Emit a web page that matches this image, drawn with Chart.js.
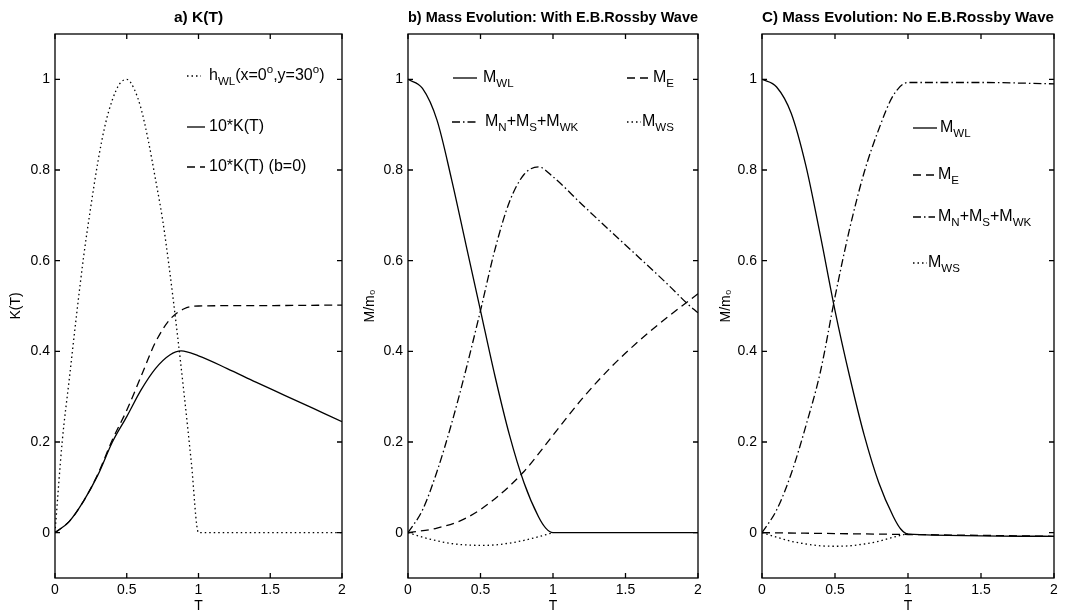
<!DOCTYPE html>
<html>
<head>
<meta charset="utf-8">
<script src="https://cdn.jsdelivr.net/npm/chart.js@4.4.0/dist/chart.umd.min.js"></script>
<style>
  body { margin: 0; background: #fff; width: 1065px; height: 615px; overflow: hidden; position: relative; }
  canvas { position: absolute; top: 0; }
</style>
</head>
<body>
<canvas id="chartA" width="354" height="615" style="left:0px"></canvas>
<canvas id="chartB" width="356" height="615" style="left:354px"></canvas>
<canvas id="chartC" width="355" height="615" style="left:710px"></canvas>
<script>
const FONT = '"Liberation Sans", Arial, Helvetica, sans-serif';

// shared axes
const xTicks = [0, 0.5, 1, 1.5, 2];
const yTicks = [0, 0.2, 0.4, 0.6, 0.8, 1];

// a) K(T)
const tH = [0, 0.05, 0.1, 0.15, 0.2, 0.25, 0.3, 0.35, 0.4, 0.45, 0.5, 0.55, 0.6, 0.65, 0.7, 0.75, 0.8, 0.85, 0.9, 0.95, 1.0, 2.0];
const hWL = [0, 0.2, 0.34, 0.48, 0.61, 0.72, 0.82, 0.9, 0.955, 0.99, 1.0, 0.98, 0.935, 0.865, 0.78, 0.69, 0.575, 0.445, 0.305, 0.155, 0, 0];
const tK = [0, 0.1, 0.2, 0.3, 0.4, 0.5, 0.6, 0.7, 0.8, 0.88, 1.0, 1.2, 1.4, 1.6, 1.8, 2.0];
const kT = [0, 0.025, 0.07, 0.128, 0.2, 0.256, 0.315, 0.362, 0.392, 0.401, 0.39, 0.362, 0.332, 0.303, 0.274, 0.245];
const tKb = [0, 0.1, 0.2, 0.3, 0.4, 0.5, 0.6, 0.7, 0.8, 0.9, 1.0, 1.5, 2.0];
const kTb0 = [0, 0.025, 0.07, 0.13, 0.205, 0.27, 0.345, 0.42, 0.47, 0.494, 0.5, 0.501, 0.502];

// b) with E.B. Rossby wave
const tWLb = [0, 0.1, 0.2, 0.3, 0.4, 0.5, 0.6, 0.7, 0.8, 0.9, 0.95, 1.0, 2.0];
const mWLb = [1, 0.98, 0.91, 0.78, 0.635, 0.49, 0.345, 0.215, 0.11, 0.035, 0.01, 0, 0];
const tEb = [0, 0.2, 0.4, 0.6, 0.8, 1.0, 1.2, 1.4, 1.6, 1.8, 2.0];
const mEb = [0, 0.01, 0.032, 0.075, 0.135, 0.215, 0.295, 0.365, 0.425, 0.478, 0.527];
const tNSb = [0, 0.1, 0.2, 0.3, 0.4, 0.5, 0.6, 0.7, 0.8, 0.9, 1.0, 1.2, 1.4, 1.6, 1.8, 1.92, 2.0];
const mNSb = [0, 0.05, 0.135, 0.24, 0.36, 0.49, 0.625, 0.73, 0.79, 0.807, 0.785, 0.724, 0.664, 0.605, 0.545, 0.507, 0.485];
const tWSb = [0, 0.1, 0.2, 0.3, 0.4, 0.5, 0.6, 0.7, 0.8, 0.9, 1.0];
const mWSb = [0, -0.01, -0.018, -0.024, -0.027, -0.028, -0.027, -0.023, -0.017, -0.009, 0];

// c) no E.B. Rossby wave
const tWLc = [0, 0.1, 0.2, 0.3, 0.4, 0.5, 0.6, 0.7, 0.8, 0.9, 0.95, 1.0, 2.0];
const mWLc = [1, 0.983, 0.925, 0.81, 0.655, 0.49, 0.345, 0.215, 0.11, 0.035, 0.008, -0.003, -0.008];
const tEc = [0, 0.5, 1.0, 2.0];
const mEc = [0, -0.002, -0.004, -0.008];
const tNSc = [0, 0.1, 0.2, 0.3, 0.4, 0.5, 0.6, 0.7, 0.8, 0.9, 1.0, 1.5, 2.0];
const mNSc = [0, 0.05, 0.13, 0.235, 0.355, 0.52, 0.67, 0.795, 0.89, 0.965, 0.993, 0.993, 0.99];
const tWSc = [0, 0.1, 0.2, 0.3, 0.4, 0.5, 0.6, 0.7, 0.8, 0.9, 1.0];
const mWSc = [0, -0.01, -0.019, -0.025, -0.029, -0.03, -0.029, -0.025, -0.019, -0.01, -0.002];

const SOLID = [];
const DASHED = [8, 5];
const DASHDOT = [8, 3, 1.5, 3];
const DOTTED = [1.5, 3];

function pts(xs, ys) {
    return xs.map((x, i) => ({ x: x, y: ys[i] }));
}

function line(xs, ys, dash) {
    return {
        data: pts(xs, ys),
        borderColor: '#000',
        borderWidth: 1.3,
        borderDash: dash,
        pointRadius: 0,
        fill: false,
        cubicInterpolationMode: 'monotone'
    };
}

// text with _{sub} and ^{sup}
function drawRich(ctx, text, x, y, size) {
    const re = /([_^])\{([^}]*)\}|([^_^]+)/g;
    let m;
    ctx.textBaseline = 'middle';
    ctx.textAlign = 'left';
    while ((m = re.exec(text)) !== null) {
        let str, fs, dy;
        if (m[1] === '_') { str = m[2]; fs = size * 0.72; dy = size * 0.36; }
        else if (m[1] === '^') { str = m[2]; fs = size * 0.72; dy = -size * 0.38; }
        else { str = m[3]; fs = size; dy = 0; }
        ctx.font = fs + 'px ' + FONT;
        ctx.fillText(str, x, y + dy);
        x += ctx.measureText(str).width;
    }
}

const lineKey = {
    id: 'lineKey',
    afterDraw(chart, args, opts) {
        const { ctx, chartArea } = chart;
        ctx.save();
        ctx.strokeStyle = '#000';
        ctx.fillStyle = '#000';
        ctx.lineWidth = 1.3;
        opts.items.forEach(it => {
            const x = chartArea.left + it.dx;
            const y = chartArea.top + it.dy;
            ctx.setLineDash(it.dash);
            ctx.beginPath();
            ctx.moveTo(x, y);
            ctx.lineTo(x + it.len, y);
            ctx.stroke();
            ctx.setLineDash([]);
            drawRich(ctx, it.label, chartArea.left + it.tx, y, 16);
        });
        ctx.restore();
    }
};

// box round the plot with inward ticks on all four sides
const matlabFrame = {
    id: 'matlabFrame',
    afterDatasetsDraw(chart) {
        const { ctx, chartArea, scales } = chart;
        const { left, right, top, bottom } = chartArea;
        const len = 5;
        ctx.save();
        ctx.strokeStyle = '#000';
        ctx.lineWidth = 1.3;
        ctx.setLineDash([]);
        ctx.strokeRect(left, top, right - left, bottom - top);
        ctx.beginPath();
        xTicks.forEach(v => {
            const px = scales.x.getPixelForValue(v);
            ctx.moveTo(px, bottom); ctx.lineTo(px, bottom - len);
            ctx.moveTo(px, top); ctx.lineTo(px, top + len);
        });
        yTicks.forEach(v => {
            const py = scales.y.getPixelForValue(v);
            ctx.moveTo(left, py); ctx.lineTo(left + len, py);
            ctx.moveTo(right, py); ctx.lineTo(right - len, py);
        });
        ctx.stroke();
        ctx.restore();
    }
};

Chart.register(lineKey, matlabFrame);

function makePanel(id, o) {
    return new Chart(document.getElementById(id), {
        type: 'line',
        data: { datasets: o.datasets },
        options: {
            responsive: false,
            animation: false,
            layout: { padding: { left: 0, right: o.padRight, top: 0, bottom: 0 } },
            plugins: {
                legend: { display: false },
                tooltip: { enabled: false },
                title: {
                    display: true,
                    text: o.title,
                    fullSize: false,
                    color: '#000',
                    font: { family: FONT, size: 15.5, weight: 'bold' },
                    padding: { top: 8, bottom: 7.4 }
                },
                lineKey: { items: o.keys }
            },
            scales: {
                x: {
                    type: 'linear',
                    min: 0,
                    max: 2,
                    afterBuildTicks: s => { s.ticks = xTicks.map(v => ({ value: v })); },
                    afterFit: s => { s.height = 37; },
                    grid: { display: false, drawTicks: false },
                    border: { display: false },
                    ticks: {
                        color: '#000',
                        font: { family: FONT, size: 14 },
                        padding: 4,
                        maxRotation: 0,
                        autoSkip: false,
                        callback: v => String(v)
                    },
                    title: {
                        display: true,
                        text: 'T',
                        color: '#000',
                        font: { family: FONT, size: 14 },
                        padding: { top: 0, bottom: 0 }
                    }
                },
                y: {
                    type: 'linear',
                    min: -0.1,
                    max: 1.1,
                    afterBuildTicks: s => { s.ticks = yTicks.map(v => ({ value: v })); },
                    afterFit: s => { s.width = o.axisWidth; },
                    grid: { display: false, drawTicks: false },
                    border: { display: false },
                    ticks: {
                        color: '#000',
                        font: { family: FONT, size: 14 },
                        padding: 5,
                        autoSkip: false,
                        callback: v => String(v)
                    },
                    title: {
                        display: true,
                        text: o.yTitle,
                        color: '#000',
                        font: { family: FONT, size: 14 },
                        padding: { top: 8, bottom: 0 }
                    }
                }
            }
        }
    });
}

makePanel('chartA', {
    title: 'a) K(T)',
    yTitle: 'K(T)',
    axisWidth: 55,
    padRight: 12,
    datasets: [
        line(tH, hWL, DOTTED),
        line(tK, kT, SOLID),
        line(tKb, kTb0, DASHED)
    ],
    keys: [
        { label: 'h_{WL}(x=0^{o},y=30^{o})', dash: DOTTED, dx: 132, dy: 42, len: 14, tx: 154 },
        { label: '10*K(T)', dash: SOLID, dx: 132, dy: 93, len: 18, tx: 154 },
        { label: '10*K(T) (b=0)', dash: DASHED, dx: 132, dy: 133, len: 18, tx: 154 }
    ]
});

makePanel('chartB', {
    title: 'b) Mass Evolution: With E.B.Rossby Wave',
    yTitle: 'M/m₀',
    axisWidth: 54,
    padRight: 12,
    datasets: [
        line(tWLb, mWLb, SOLID),
        line(tEb, mEb, DASHED),
        line(tNSb, mNSb, DASHDOT),
        line(tWSb, mWSb, DOTTED)
    ],
    keys: [
        { label: 'M_{WL}', dash: SOLID, dx: 45, dy: 44, len: 24, tx: 75 },
        { label: 'M_{E}', dash: DASHED, dx: 219, dy: 44, len: 22, tx: 245 },
        { label: 'M_{N}+M_{S}+M_{WK}', dash: DASHDOT, dx: 44, dy: 88, len: 24, tx: 77 },
        { label: 'M_{WS}', dash: DOTTED, dx: 219, dy: 88, len: 14, tx: 234 }
    ]
});

makePanel('chartC', {
    title: 'C) Mass Evolution: No E.B.Rossby Wave',
    yTitle: 'M/m₀',
    axisWidth: 52,
    padRight: 11,
    datasets: [
        line(tWLc, mWLc, SOLID),
        line(tEc, mEc, DASHED),
        line(tNSc, mNSc, DASHDOT),
        line(tWSc, mWSc, DOTTED)
    ],
    keys: [
        { label: 'M_{WL}', dash: SOLID, dx: 151, dy: 94, len: 24, tx: 178 },
        { label: 'M_{E}', dash: DASHED, dx: 151, dy: 141, len: 22, tx: 176 },
        { label: 'M_{N}+M_{S}+M_{WK}', dash: DASHDOT, dx: 151, dy: 183, len: 22, tx: 176 },
        { label: 'M_{WS}', dash: DOTTED, dx: 151, dy: 229, len: 14, tx: 166 }
    ]
});
</script>
</body>
</html>
